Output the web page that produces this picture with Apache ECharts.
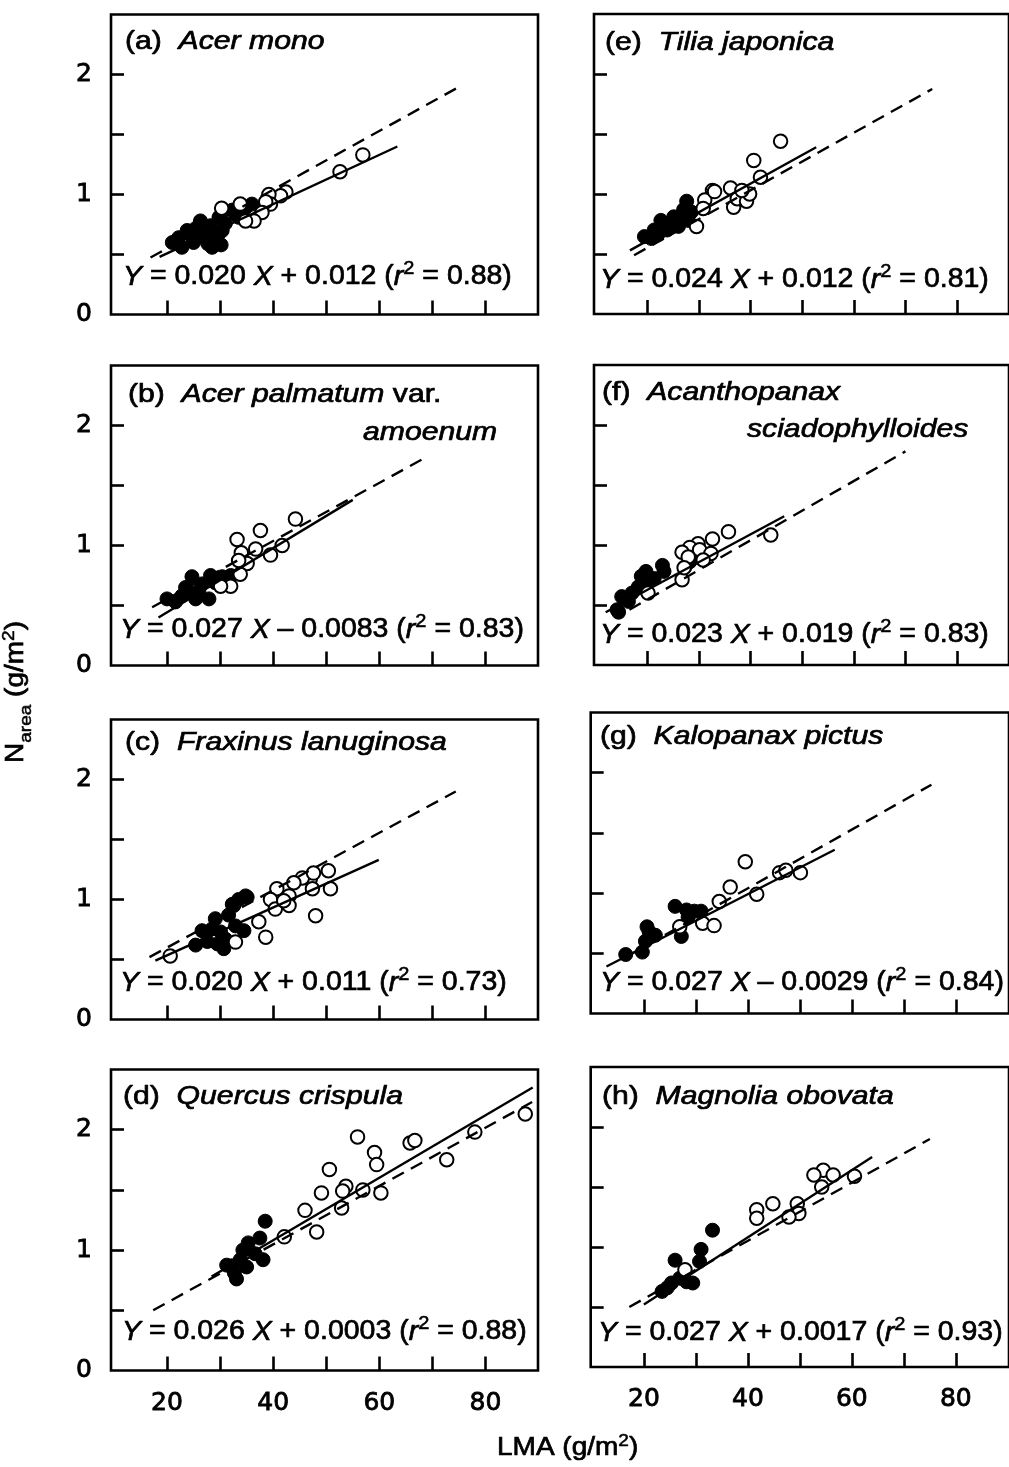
<!DOCTYPE html>
<html><head><meta charset="utf-8">
<script src="https://cdn.jsdelivr.net/npm/echarts@6/dist/echarts.min.js"></script>
<style>html,body{margin:0;padding:0;background:#fff}#c{width:1009px;height:1467px}</style>
</head><body><div id="c"></div>
<script>
// ---------- data ----------
const xTicks = [20, 30, 40, 50, 60, 70, 80];
const xTickLabels = [20, 40, 60, 80];
const yTicks = [0.5, 1, 1.5, 2];
const yTickLabels = [0, 1, 2];

// (a) Acer mono
const aFilled = [[21.0,0.60],[22.8,0.56],[23.8,0.70],[25.0,0.60],[26.3,0.78],[27.2,0.64],[28.2,0.74],[29.1,0.62],[29.8,0.81],[30.4,0.70],[31.0,0.76],[32.3,0.87],[33.5,0.81],[34.8,0.89],[36.0,0.92],[28.5,0.56],[25.5,0.72],[22.2,0.64],[29.8,0.675],[32.9,0.84],[27.7,0.59],[24.5,0.66],[26.8,0.70],[30.2,0.58]];
const aOpen = [[56.9,1.33],[52.6,1.19],[42.4,1.02],[41.4,0.99],[39.2,1.0],[39.5,0.92],[38.6,0.94],[37.9,0.85],[36.4,0.78],[34.8,0.78],[30.3,0.885],[33.8,0.92]];
const aSolid = [[18.6,0.48],[63.4,1.40]];
const aDashed = [[16.9,0.475],[74.7,1.889]];

// (b) Acer palmatum var. amoenum
const bFilled = [[20.0,0.555],[21.6,0.53],[23.5,0.65],[24.1,0.61],[24.7,0.74],[25.4,0.555],[26.6,0.68],[27.9,0.555],[28.2,0.75],[29.1,0.69],[30.4,0.74],[32.0,0.75],[34.0,0.86],[22.8,0.58],[26.0,0.62]];
const bOpen = [[44.2,1.22],[37.6,1.125],[33.2,1.05],[36.7,0.97],[34.0,0.94],[39.5,0.92],[41.7,1.0],[35.1,0.85],[33.8,0.76],[32.0,0.66],[30.1,0.66],[33.5,0.875]];
const bSolid = [[18.4,0.40],[55.0,1.38]];
const bDashed = [[17.2,0.486],[69.0,1.74]];

// (c) Fraxinus lanuginosa
const cFilled = [[25.4,0.62],[26.6,0.74],[27.6,0.65],[28.5,0.755],[29.1,0.84],[29.5,0.63],[30.1,0.73],[30.7,0.59],[31.0,0.67],[31.6,0.87],[32.6,0.95],[32.9,0.78],[33.5,1.0],[34.5,0.74],[34.8,1.03],[35.1,1.02],[32.3,0.96]];
const cOpen = [[50.4,1.24],[50.8,1.09],[48.0,0.865],[47.0,1.17],[47.4,1.09],[45.5,1.18],[43.9,1.14],[43.0,1.03],[43.0,0.95],[40.7,1.09],[39.5,1.0],[40.4,0.92],[37.3,0.815],[38.6,0.686],[32.9,0.645],[20.6,0.53],[42.0,0.99],[47.6,1.22]];
const cSolid = [[17.8,0.49],[59.9,1.33]];
const cDashed = [[16.7,0.52],[74.4,1.90]];

// (d) Quercus crispula
const dFilled = [[38.5,1.24],[31.25,0.875],[33.1,0.76],[34.3,1.0],[35.3,1.06],[35.0,0.86],[36.6,0.97],[37.5,1.10],[38.1,0.92],[33.8,0.92],[32.7,0.81],[32.3,0.87]];
const dOpen = [[87.5,2.13],[78.0,1.98],[72.7,1.75],[65.8,1.89],[66.7,1.91],[55.9,1.94],[59.1,1.81],[59.5,1.71],[56.9,1.50],[60.3,1.475],[53.7,1.53],[53.1,1.49],[52.9,1.35],[50.6,1.67],[49.1,1.475],[46.0,1.33],[48.2,1.15],[42.1,1.11]];
const dSolid = [[28.4,0.78],[88.9,2.35]];
const dDashed = [[17.4,0.50],[88.8,2.23]];

// (e) Tilia japonica
const eFilled = [[19.4,0.645],[20.7,0.63],[21.3,0.70],[22.6,0.78],[23.3,0.75],[23.8,0.70],[25.1,0.81],[26.0,0.73],[26.3,0.81],[27.0,0.87],[27.6,0.94],[27.9,0.78],[28.5,0.85],[22.0,0.66],[24.5,0.76]];
const eOpen = [[45.8,1.44],[40.6,1.28],[41.9,1.14],[36.1,1.05],[32.6,1.03],[31.1,0.95],[30.8,0.88],[29.5,0.73],[36.7,0.89],[37.4,0.96],[39.2,0.94],[39.8,1.0],[38.3,1.03],[33.0,1.02]];
const eSolid = [[16.6,0.53],[52.7,1.39]];
const eDashed = [[17.4,0.49],[75.2,1.875]];

// (f) Acanthopanax sciadophylloides
const fFilled = [[14.1,0.46],[14.4,0.44],[15.0,0.57],[16.3,0.53],[18.2,0.65],[18.8,0.74],[19.7,0.78],[20.1,0.71],[21.3,0.72],[22.9,0.83],[23.2,0.78],[27.3,0.82],[28.2,0.86],[29.5,0.93],[17.0,0.60]];
const fOpen = [[43.9,1.083],[35.7,1.11],[32.6,1.05],[29.8,1.01],[28.2,0.98],[26.7,0.94],[30.1,0.96],[32.3,0.93],[30.8,0.875],[27.9,0.90],[26.7,0.71],[27.1,0.81],[20.1,0.60]];
const fSolid = [[11.9,0.44],[46.5,1.24]];
const fDashed = [[16.5,0.46],[70.0,1.78]];

// (g) Kalopanax pictus
const gFilled = [[16.5,0.49],[19.7,0.51],[20.3,0.60],[20.6,0.72],[22.2,0.65],[26.0,0.89],[27.2,0.64],[28.2,0.86],[28.5,0.80],[29.7,0.85],[31.0,0.85],[21.0,0.68]];
const gOpen = [[39.5,1.26],[36.6,1.05],[34.5,0.93],[41.7,0.99],[46.1,1.17],[47.3,1.19],[50.1,1.17],[31.3,0.75],[33.5,0.73],[26.9,0.72]];
const gSolid = [[12.8,0.39],[56.7,1.36]];
const gDashed = [[17.0,0.48],[75.3,1.90]];

// (h) Magnolia obovata
const hFilled = [[23.5,0.63],[25.3,0.70],[26.0,0.89],[26.9,0.74],[28.2,0.71],[29.4,0.70],[30.7,0.88],[31.0,0.98],[33.2,1.14],[24.5,0.66]];
const hOpen = [[60.5,1.59],[54.5,1.64],[52.7,1.60],[56.4,1.60],[54.2,1.50],[44.8,1.36],[41.7,1.31],[41.7,1.24],[49.5,1.36],[49.8,1.28],[47.9,1.25],[27.9,0.81]];
const hSolid = [[20.0,0.52],[63.9,1.75]];
const hDashed = [[17.2,0.50],[75.0,1.90]];

// panel labels: [letter, species (italic), suffix, second line (italic)]
const titleA = ['(a)', 'Acer mono', '', ''];
const titleB = ['(b)', 'Acer palmatum', ' var.', 'amoenum'];
const titleC = ['(c)', 'Fraxinus lanuginosa', '', ''];
const titleD = ['(d)', 'Quercus crispula', '', ''];
const titleE = ['(e)', 'Tilia japonica', '', ''];
const titleF = ['(f)', 'Acanthopanax', '', 'sciadophylloides'];
const titleG = ['(g)', 'Kalopanax pictus', '', ''];
const titleH = ['(h)', 'Magnolia obovata', '', ''];

// regression equations: [slope, sign+intercept, r2]
const eqA = ['0.020', '+ 0.012', '0.88'];
const eqB = ['0.027', '\u2013 0.0083', '0.83'];
const eqC = ['0.020', '+ 0.011', '0.73'];
const eqD = ['0.026', '+ 0.0003', '0.88'];
const eqE = ['0.024', '+ 0.012', '0.81'];
const eqF = ['0.023', '+ 0.019', '0.83'];
const eqG = ['0.027', '\u2013 0.0029', '0.84'];
const eqH = ['0.027', '+ 0.0017', '0.93'];

const xName = ['LMA', '(g/m', '2', ')'];
const yName = ['N', 'area', '(g/m', '2', ')'];

// ---------- layout (positions / styles) ----------
const FONT = '"Liberation Sans", Arial, Helvetica, sans-serif';
const TICKFONT = '"DejaVu Sans", sans-serif';
const L_LEFT = {left: 111, width: 427, xmin: 9.45, xmax: 89.9};
const L_RIGHT1 = {left: 594, width: 427, xmin: 9.63, xmax: 90.08};
const L_RIGHT2 = {left: 590.7, width: 427, xmin: 9.77, xmax: 90.22};

const panels = [
  {filled: aFilled, open: aOpen, solid: aSolid, dashed: aDashed, title: titleA, eq: eqA,
   box: Object.assign({top: 14.5, height: 300, yLab: true, xLab: false}, L_LEFT),
   tPos: [125, 42], t2Pos: null, ePos: [123, 277]},
  {filled: bFilled, open: bOpen, solid: bSolid, dashed: bDashed, title: titleB, eq: eqB,
   box: Object.assign({top: 365.5, height: 300, yLab: true, xLab: false}, L_LEFT),
   tPos: [128, 395], t2Pos: [363, 433], ePos: [120, 630]},
  {filled: cFilled, open: cOpen, solid: cSolid, dashed: cDashed, title: titleC, eq: eqC,
   box: Object.assign({top: 719.5, height: 300, yLab: true, xLab: false}, L_LEFT),
   tPos: [125, 743], t2Pos: null, ePos: [120, 983]},
  {filled: dFilled, open: dOpen, solid: dSolid, dashed: dDashed, title: titleD, eq: eqD,
   box: Object.assign({top: 1069.5, height: 301, yLab: true, xLab: true}, L_LEFT),
   tPos: [123, 1097], t2Pos: null, ePos: [122, 1332]},
  {filled: eFilled, open: eOpen, solid: eSolid, dashed: eDashed, title: titleE, eq: eqE,
   box: Object.assign({top: 14, height: 300, yLab: false, xLab: false}, L_RIGHT1),
   tPos: [605, 43], t2Pos: null, ePos: [600, 280]},
  {filled: fFilled, open: fOpen, solid: fSolid, dashed: fDashed, title: titleF, eq: eqF,
   box: Object.assign({top: 365, height: 300, yLab: false, xLab: false}, L_RIGHT1),
   tPos: [602, 393], t2Pos: [747, 430], ePos: [600, 635]},
  {filled: gFilled, open: gOpen, solid: gSolid, dashed: gDashed, title: titleG, eq: eqG,
   box: Object.assign({top: 712.5, height: 301, yLab: false, xLab: false}, L_RIGHT2),
   tPos: [600, 737], t2Pos: null, ePos: [600, 983]},
  {filled: hFilled, open: hOpen, solid: hSolid, dashed: hDashed, title: titleH, eq: eqH,
   box: Object.assign({top: 1067, height: 300, yLab: false, xLab: true}, L_RIGHT2),
   tPos: [602, 1097], t2Pos: null, ePos: [598, 1333]}
];

const TITLE_SIZE = 26, TITLE_SX = 1.16;
const EQ_SIZE = 27, EQ_SX = 1.055;
const SW = 0.7; // slight stroke to thicken glyphs like the scanned original
const richBase = {
  n: {fontSize: EQ_SIZE, fontFamily: FONT, fill: '#000', stroke: '#000', lineWidth: SW, verticalAlign: 'bottom', lineHeight: EQ_SIZE},
  i: {fontSize: EQ_SIZE, fontFamily: FONT, fontStyle: 'italic', fill: '#000', stroke: '#000', lineWidth: SW, verticalAlign: 'bottom', lineHeight: EQ_SIZE},
  s: {fontSize: 19, fontFamily: FONT, fill: '#000', stroke: '#000', lineWidth: SW * 0.8, verticalAlign: 'bottom', lineHeight: 19, padding: [0, 0, 12, 0]}
};
const richTitle = {
  n: {fontSize: TITLE_SIZE, fontFamily: FONT, fill: '#000', stroke: '#000', lineWidth: SW},
  i: {fontSize: TITLE_SIZE, fontFamily: FONT, fontStyle: 'italic', fill: '#000', stroke: '#000', lineWidth: SW}
};

const grids = [], xAxes = [], yAxes = [], series = [], graphics = [];
panels.forEach((p, k) => {
  const B = p.box;
  grids.push({left: B.left, top: B.top, width: B.width, height: B.height, show: true,
    borderColor: '#000', borderWidth: 2.6, backgroundColor: 'rgba(0,0,0,0)'});
  const lab = {fontFamily: TICKFONT, fontSize: 25, color: '#000', textBorderColor: '#000', textBorderWidth: 0.8};
  xAxes.push({gridIndex: k, type: 'value', min: B.xmin, max: B.xmax,
    axisLine: {show: false}, splitLine: {show: false},
    axisTick: {show: true, inside: true, length: 14, customValues: xTicks, lineStyle: {color: '#000', width: 2.6}},
    axisLabel: Object.assign({show: B.xLab, customValues: xTickLabels, margin: 20}, lab)});
  yAxes.push({gridIndex: k, type: 'value', min: 0, max: 2.5,
    axisLine: {show: false}, splitLine: {show: false},
    axisTick: {show: true, inside: true, length: 13, customValues: yTicks, lineStyle: {color: '#000', width: 2.6}},
    axisLabel: Object.assign({show: B.yLab, customValues: yTickLabels, margin: 19}, lab)});
  series.push({type: 'scatter', xAxisIndex: k, yAxisIndex: k, data: p.filled, symbol: 'circle', symbolSize: 14,
    itemStyle: {color: '#000', borderColor: '#000', borderWidth: 1, opacity: 1}, z: 2, silent: true});
  series.push({type: 'scatter', xAxisIndex: k, yAxisIndex: k, data: p.open, symbol: 'circle', symbolSize: 13.5,
    itemStyle: {color: '#fff', borderColor: '#000', borderWidth: 2, opacity: 1}, z: 3, silent: true});
  series.push({type: 'line', xAxisIndex: k, yAxisIndex: k, data: p.solid, symbol: 'none',
    lineStyle: {color: '#000', width: 2.4, opacity: 1}, z: 4, silent: true});
  series.push({type: 'line', xAxisIndex: k, yAxisIndex: k, data: p.dashed, symbol: 'none',
    lineStyle: {color: '#000', width: 2.4, type: [13, 8], opacity: 1}, z: 4, silent: true});

  const t = p.title;
  graphics.push({type: 'text', x: p.tPos[0], y: p.tPos[1], scaleX: TITLE_SX, z: 10,
    style: {text: '{n|' + t[0] + '  }{i|' + t[1] + '}' + (t[2] ? '{n|' + t[2] + '}' : ''), rich: richTitle,
      fontSize: TITLE_SIZE, fontFamily: FONT, fill: '#000', align: 'left', verticalAlign: 'middle'}});
  if (p.t2Pos) {
    graphics.push({type: 'text', x: p.t2Pos[0], y: p.t2Pos[1], scaleX: TITLE_SX, z: 10,
      style: {text: t[3], fontSize: TITLE_SIZE, fontFamily: FONT, fontStyle: 'italic', fill: '#000',
        stroke: '#000', lineWidth: SW, align: 'left', verticalAlign: 'middle'}});
  }
  const e = p.eq;
  graphics.push({type: 'text', x: p.ePos[0], y: p.ePos[1], scaleX: EQ_SX, z: 10,
    style: {text: '{i|Y}{n| = ' + e[0] + ' }{i|X}{n| ' + e[1] + ' (}{i|r}{s|2}{n| = ' + e[2] + ')}',
      rich: richBase, fontSize: EQ_SIZE, fontFamily: FONT, fill: '#000', align: 'left', verticalAlign: 'middle'}});
});

// axis titles
graphics.push({type: 'text', x: 497, y: 1448, scaleX: 1.12, z: 10,
  style: {text: '{n|' + xName[0] + ' ' + xName[1] + '}{s|' + xName[2] + '}{n|' + xName[3] + '}',
    rich: {
      n: {fontSize: 25, fontFamily: FONT, fill: '#000', stroke: '#000', lineWidth: SW, verticalAlign: 'bottom', lineHeight: 25},
      s: {fontSize: 17, fontFamily: FONT, fill: '#000', stroke: '#000', lineWidth: 0.5, verticalAlign: 'bottom', lineHeight: 17, padding: [0, 0, 11, 0]}
    }, align: 'left', verticalAlign: 'middle'}});
graphics.push({type: 'text', x: 22, y: 692, rotation: Math.PI / 2, scaleX: 1.12, z: 10,
  style: {text: '{n|' + yName[0] + '}{b|' + yName[1] + '}{n| ' + yName[2] + '}{s|' + yName[3] + '}{n|' + yName[4] + '}',
    rich: {
      n: {fontSize: 25, fontFamily: FONT, fill: '#000', stroke: '#000', lineWidth: SW, verticalAlign: 'bottom', lineHeight: 25, padding: [0, 0, 6, 0]},
      b: {fontSize: 17, fontFamily: FONT, fill: '#000', stroke: '#000', lineWidth: 0.5, verticalAlign: 'bottom', lineHeight: 17},
      s: {fontSize: 17, fontFamily: FONT, fill: '#000', stroke: '#000', lineWidth: 0.5, verticalAlign: 'bottom', lineHeight: 17, padding: [0, 0, 17, 0]}
    }, align: 'center', verticalAlign: 'middle'}});

const chart = echarts.init(document.getElementById('c'), null, {renderer: 'canvas'});
chart.setOption({
  animation: false,
  backgroundColor: '#fff',
  grid: grids, xAxis: xAxes, yAxis: yAxes, series: series, graphic: graphics
});
</script></body></html>
